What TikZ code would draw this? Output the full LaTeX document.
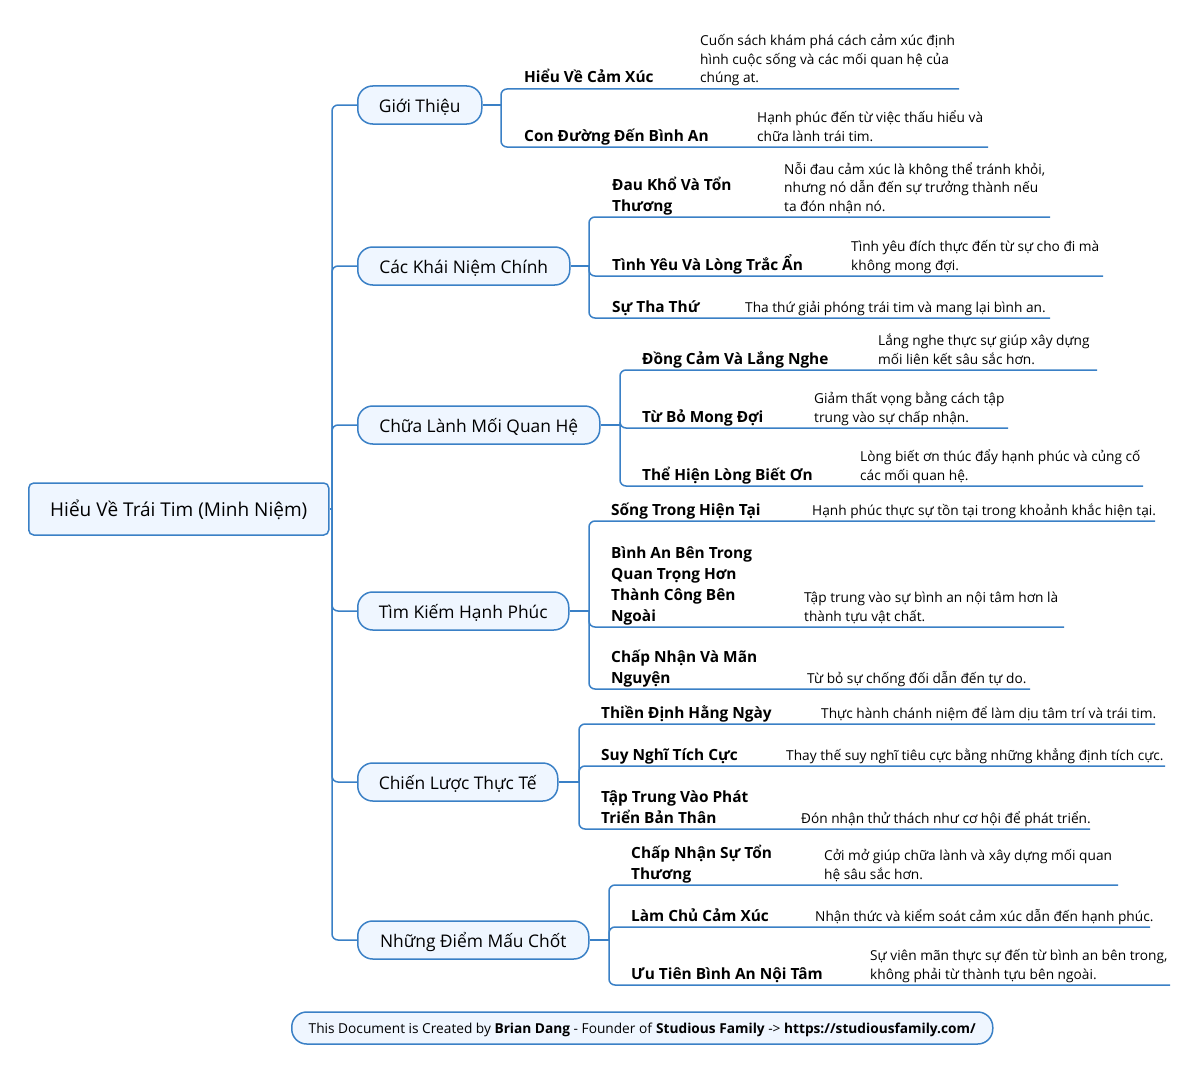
\documentclass[tikz,border=0pt]{standalone}
\usepackage{fontspec}
\setmainfont{Open Sans}
\definecolor{lb}{RGB}{58,128,198}
\definecolor{fillb}{RGB}{239,246,255}
\tikzset{
  rootbox/.style={draw=lb, fill=fillb, line width=1.5pt, rounded corners=5pt, minimum width=300pt, minimum height=52pt, font=\fontsize{19}{23}\selectfont, anchor=west, inner sep=0pt, text height=19.4pt, text depth=4pt},
  topicbox/.style={draw=lb, fill=fillb, line width=1.5pt, rounded corners=15pt, minimum height=38pt, font=\fontsize{17.4}{21}\selectfont, anchor=west, inner sep=0pt, text height=19.4pt, text depth=4pt},
  subtxt/.style={anchor=base west, font=\fontsize{15.4}{21}\selectfont\bfseries, align=left, inner sep=0pt},
  desctxt/.style={anchor=base west, font=\fontsize{13.7}{18.5}\selectfont, align=left, inner sep=0pt},
  conn/.style={draw=lb, line width=1.5pt, rounded corners=6pt},
  footbox/.style={draw=lb, fill=fillb, line width=1.5pt, rounded corners=15pt, minimum width=701pt, minimum height=32pt, font=\fontsize{13.7}{16}\selectfont, anchor=west, inner sep=0pt, text height=14.6pt, text depth=4pt}
}
\begin{document}
\begin{tikzpicture}[x=1pt,y=-1pt]
\useasboundingbox (0,0) rectangle (1200,1073);
\fill[white] (0,0) rectangle (1200,1073);

% root and topics
\node[rootbox] (root) at (28,509) {Hiểu Về Trái Tim (Minh Niệm)};
\coordinate (rj) at (332,509);
\draw[conn] (root.east) -- (rj);

\node[topicbox, minimum width=124pt] (t1) at (357,105) {Giới Thiệu};
\node[topicbox, minimum width=212pt] (t2) at (357,266) {Các Khái Niệm Chính};
\node[topicbox, minimum width=242pt] (t3) at (357,425) {Chữa Lành Mối Quan Hệ};
\node[topicbox, minimum width=211pt] (t4) at (357,611) {Tìm Kiếm Hạnh Phúc};
\node[topicbox, minimum width=200pt] (t5) at (357,782) {Chiến Lược Thực Tế};
\node[topicbox, minimum width=231pt] (t6) at (357,940) {Những Điểm Mấu Chốt};
\foreach \t in {t1,t2,t3,t4,t5,t6}{\draw[conn] (rj) |- (\t.west);}

% ---------- Giới Thiệu
\coordinate (j1) at (501,105);
\draw[conn] (t1.east) -- (j1);
\node[subtxt] (s11) at (524,83) {Hiểu Về Cảm Xúc};
\node[desctxt] (d11) at (700,83) {Cuốn sách khám phá cách cảm xúc định\\hình cuộc sống và các mối quan hệ của\\chúng at.};
\coordinate (e11) at (959,89);
\draw[conn] (j1) |- (e11);
\node[subtxt] (s12) at (524,141) {Con Đường Đến Bình An};
\node[desctxt] (d12) at (757,141) {Hạnh phúc đến từ việc thấu hiểu và\\chữa lành trái tim.};
\coordinate (e12) at (988,147);
\draw[conn] (j1) |- (e12);

% ---------- Các Khái Niệm Chính
\coordinate (j2) at (589,266);
\draw[conn] (t2.east) -- (j2);
\node[subtxt] (s21) at (612,211) {Đau Khổ Và Tổn\\Thương};
\node[desctxt] (d21) at (784,211) {Nỗi đau cảm xúc là không thể tránh khỏi,\\nhưng nó dẫn đến sự trưởng thành nếu\\ta đón nhận nó.};
\coordinate (e21) at (1050,217);
\draw[conn] (j2) |- (e21);
\node[subtxt] (s22) at (612,270) {Tình Yêu Và Lòng Trắc Ẩn};
\node[desctxt] (d22) at (851,270) {Tình yêu đích thực đến từ sự cho đi mà\\không mong đợi.};
\coordinate (e22) at (1103,276);
\draw[conn] (j2) |- (e22);
\node[subtxt] (s23) at (612,312) {Sự Tha Thứ};
\node[desctxt] (d23) at (745,312) {Tha thứ giải phóng trái tim và mang lại bình an.};
\coordinate (e23) at (1050,318);
\draw[conn] (j2) |- (e23);

% ---------- Chữa Lành Mối Quan Hệ
\coordinate (j3) at (620,425);
\draw[conn] (t3.east) -- (j3);
\node[subtxt] (s31) at (642,364) {Đồng Cảm Và Lắng Nghe};
\node[desctxt] (d31) at (878,364) {Lắng nghe thực sự giúp xây dựng\\mối liên kết sâu sắc hơn.};
\coordinate (e31) at (1097,370);
\draw[conn] (j3) |- (e31);
\node[subtxt] (s32) at (642,422) {Từ Bỏ Mong Đợi};
\node[desctxt] (d32) at (814,422) {Giảm thất vọng bằng cách tập\\trung vào sự chấp nhận.};
\coordinate (e32) at (1008,428);
\draw[conn] (j3) |- (e32);
\node[subtxt] (s33) at (642,480) {Thể Hiện Lòng Biết Ơn};
\node[desctxt] (d33) at (860,480) {Lòng biết ơn thúc đẩy hạnh phúc và củng cố\\các mối quan hệ.};
\coordinate (e33) at (1143,486);
\draw[conn] (j3) |- (e33);

% ---------- Tìm Kiếm Hạnh Phúc
\coordinate (j4) at (589,611);
\draw[conn] (t4.east) -- (j4);
\node[subtxt] (s41) at (611,515) {Sống Trong Hiện Tại};
\node[desctxt] (d41) at (812,515) {Hạnh phúc thực sự tồn tại trong khoảnh khắc hiện tại.};
\coordinate (e41) at (1155,521);
\draw[conn] (j4) |- (e41);
\node[subtxt] (s42) at (611,621) {Bình An Bên Trong\\Quan Trọng Hơn\\Thành Công Bên\\Ngoài};
\node[desctxt] (d42) at (804,621) {Tập trung vào sự bình an nội tâm hơn là\\thành tựu vật chất.};
\coordinate (e42) at (1064,627);
\draw[conn] (j4) |- (e42);
\node[subtxt] (s43) at (611,683) {Chấp Nhận Và Mãn\\Nguyện};
\node[desctxt] (d43) at (807,683) {Từ bỏ sự chống đối dẫn đến tự do.};
\coordinate (e43) at (1030,689);
\draw[conn] (j4) |- (e43);

% ---------- Chiến Lược Thực Tế
\coordinate (j5) at (579,782);
\draw[conn] (t5.east) -- (j5);
\node[subtxt] (s51) at (601,718) {Thiền Định Hằng Ngày};
\node[desctxt] (d51) at (821,718) {Thực hành chánh niệm để làm dịu tâm trí và trái tim.};
\coordinate (e51) at (1155,724);
\draw[conn] (j5) |- (e51);
\node[subtxt] (s52) at (601,760) {Suy Nghĩ Tích Cực};
\node[desctxt] (d52) at (786,760) {Thay thế suy nghĩ tiêu cực bằng những khẳng định tích cực.};
\coordinate (e52) at (1165,766);
\draw[conn] (j5) |- (e52);
\node[subtxt] (s53) at (601,823) {Tập Trung Vào Phát\\Triển Bản Thân};
\node[desctxt] (d53) at (801,823) {Đón nhận thử thách như cơ hội để phát triển.};
\coordinate (e53) at (1090,829);
\draw[conn] (j5) |- (e53);

% ---------- Những Điểm Mấu Chốt
\coordinate (j6) at (609,940);
\draw[conn] (t6.east) -- (j6);
\node[subtxt] (s61) at (631,879) {Chấp Nhận Sự Tổn\\Thương};
\node[desctxt] (d61) at (824,879) {Cởi mở giúp chữa lành và xây dựng mối quan\\hệ sâu sắc hơn.};
\coordinate (e61) at (1118,885);
\draw[conn] (j6) |- (e61);
\node[subtxt] (s62) at (631,921) {Làm Chủ Cảm Xúc};
\node[desctxt] (d62) at (815,921) {Nhận thức và kiểm soát cảm xúc dẫn đến hạnh phúc.};
\coordinate (e62) at (1150,927);
\draw[conn] (j6) |- (e62);
\node[subtxt] (s63) at (631,979) {Ưu Tiên Bình An Nội Tâm};
\node[desctxt] (d63) at (870,979) {Sự viên mãn thực sự đến từ bình an bên trong,\\không phải từ thành tựu bên ngoài.};
\coordinate (e63) at (1170,985);
\draw[conn] (j6) |- (e63);

% footer
\node[footbox] (foot) at (291,1028) {This Document is Created by \textbf{Brian Dang} - Founder of \textbf{Studious Family} -> \textbf{https://studiousfamily.com/}};
\end{tikzpicture}
\end{document}
